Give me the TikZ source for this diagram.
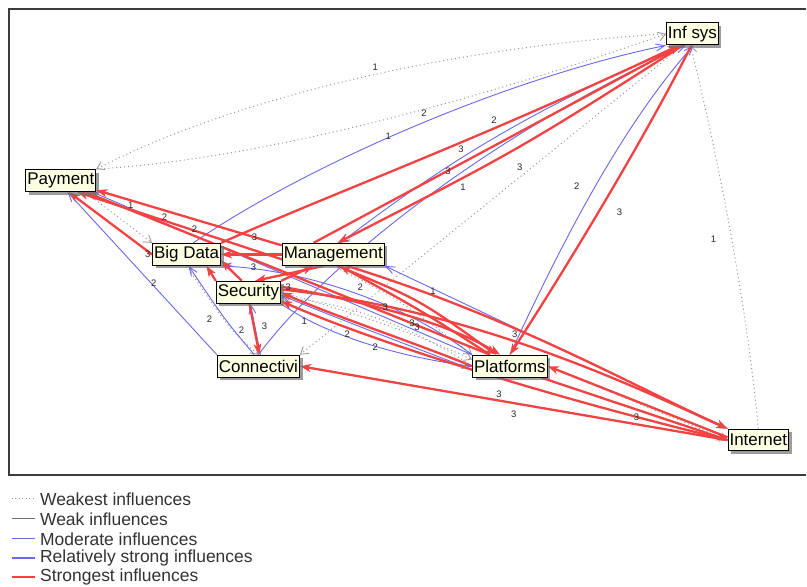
\documentclass[tikz,border=0pt]{standalone}
\usepackage{fontspec}
\setmainfont{Liberation Sans}
\usetikzlibrary{arrows.meta,shadows}
\definecolor{redE}{RGB}{242,66,66}
\definecolor{blueE}{RGB}{104,104,232}
\definecolor{grayE}{RGB}{150,150,150}
\definecolor{weakE}{RGB}{110,110,110}
\definecolor{boxfill}{RGB}{255,255,228}
\definecolor{frameC}{RGB}{60,60,60}
\pgfdeclarelayer{back}
\pgfdeclarelayer{edges}
\pgfsetlayers{back,edges,main}
\begin{document}
\begin{tikzpicture}[x=1pt,y=-1pt,
  vbox/.style={draw=black,line width=1pt,fill=boxfill,font=\fontsize{17}{18}\selectfont,
    inner xsep=1.5pt,inner ysep=1pt,minimum height=22pt,
    drop shadow={shadow xshift=3pt,shadow yshift=-3pt,fill=black!55,opacity=0.7}},
  wk/.style={grayE,line width=1pt,dash pattern=on 1pt off 3pt,
    -{Straight Barb[length=7pt,width=9pt,line width=0.8pt]}},
  md/.style={blueE,line width=0.9pt,-{Straight Barb[length=9pt,width=7pt,line width=0.9pt]}},
  st/.style={redE,line width=2.3pt,-{Stealth[length=11pt,width=8pt,inset=3pt]}},
  elab/.style={font=\fontsize{9.5}{10}\selectfont,inner sep=0pt,text=black!85},
  legl/.style={font=\fontsize{17.5}{18}\selectfont,anchor=west,inner sep=0pt,text=black!80}
]
\begin{pgfonlayer}{back}
\fill[white] (0,0) rectangle (807,588);
\draw[frameC,line width=1.6pt] (808,9) -- (9,9) -- (9,476) -- (808,476);
\end{pgfonlayer}
\useasboundingbox (0,0) rectangle (807,588);

% nodes
\path
 (694,34)  node[vbox] (inf)  {Inf sys}
 (61,181)  node[vbox] (pay)  {Payment}
 (187,255) node[vbox] (big)  {Big Data}
 (334,255) node[vbox] (man)  {Management}
 (249,293) node[vbox] (sec)  {Security}
 (259,367) node[vbox] (con)  {Connectivi}
 (511,367) node[vbox] (plat) {Platforms}
 (760,441) node[vbox] (int)  {Internet};

\begin{pgfonlayer}{edges}
% weakest influences
\draw[wk] (inf.west) .. controls (480,45) and (250,90) .. (pay.north east);
\draw[wk] (pay.north east) .. controls (250,160) and (450,110) .. (inf.west);
\draw[wk] (int.north) .. controls (748,300) and (718,150) .. (inf.-100);
\draw[wk] (inf.-130) -- (con.north east);
\draw[wk] (pay.-25) -- (big.north west);
\draw[wk] (man.south) .. controls (400,300) .. (plat.north west);
\draw[wk] (sec.east) .. controls (380,320) and (440,345) .. (plat.170);
\draw[wk] (plat.west) .. controls (420,330) and (340,300) .. (sec.-10);
\draw[wk] (plat.east) -- (int.west);
\draw[wk] (big.south) .. controls (230,330) .. (con.north);
% moderate influences
\draw[md] (big.60) .. controls (300,170) and (500,80) .. (inf.south west);
\draw[md] (con.north) .. controls (330,260) and (500,130) .. (inf.-120);
\draw[md] (plat.north) .. controls (560,250) and (620,130) .. (inf.-85);
\draw[md] (int.north west) -- (man.south east);
\draw[md] (plat.north west) -- (pay.-20);
\draw[md] (con.north west) -- (pay.-60);
\draw[md] (con.110) .. controls (225,320) .. (big.-80);
\draw[md] (con.80) -- (sec.-80);
\draw[md] (plat.north west) .. controls (400,300) and (300,270) .. (big.south east);
\draw[md] (sec.south east) .. controls (340,345) and (430,362) .. (plat.west);
\draw[md] (plat.185) .. controls (420,350) and (340,320) .. (sec.-5);
\draw[md] (inf.-125) .. controls (500,120) and (400,200) .. (man.60);
% strongest influences
\draw[st] (big.north east) .. controls (330,195) and (480,140) .. (inf.-140);
\draw[st] (man.150) -- (inf.-135);
\draw[st] (inf.-130) .. controls (520,150) .. (man.70);
\draw[st] (inf.-95) .. controls (640,150) and (560,280) .. (plat.north);
\draw[st] (man.west) -- (big.east);
\draw[st] (sec.north west) -- (big.-30);
\draw[st] (sec.120) -- (big.-10);
\draw[st] (man.170) -- (pay.-15);
\draw[st] (plat.150) -- (pay.-25);
\draw[st] (man.-160) -- (pay.-35);
\draw[st] (big.west) -- (pay.-55);
\draw[st] (plat.west) .. controls (420,345) and (330,315) .. (sec.east);
\draw[st] (int.west) .. controls (560,400) and (380,345) .. (sec.-15);
\draw[st] (sec.10) .. controls (380,305) and (450,325) .. (plat.130);
\draw[st] (man.-70) .. controls (420,300) .. (plat.140);
\draw[st] (plat.150) .. controls (420,310) .. (man.-60);
\draw[st] (sec.-85) -- (con.85);
\draw[st] (int.west) -- (con.east);
\draw[st] (int.175) -- (plat.east);
\draw[st] (plat.-20) -- (int.west);
\draw[st] (man.-40) .. controls (520,320) and (640,390) .. (int.north west);
\draw[st] (sec.5) .. controls (470,310) and (620,380) .. (int.160);
\draw[st] (sec.north east) -- (man.-150);
\draw[st] (man.-130) -- (sec.60);
\end{pgfonlayer}

% edge labels
\path
 (376,67)  node[elab] (l01) {1}
 (425,113) node[elab] (l02) {2}
 (389,137) node[elab] (l03) {1}
 (495,120) node[elab] (l04) {2}
 (462,150) node[elab] (l05) {3}
 (449,172) node[elab] (l06) {3}
 (464,188) node[elab] (l07) {1}
 (521,168) node[elab] (l08) {3}
 (578,187) node[elab] (l09) {2}
 (621,213) node[elab] (l10) {3}
 (715,240) node[elab] (l11) {1}
 (131,206) node[elab] (l12) {1}
 (165,218) node[elab] (l13) {2}
 (195,230) node[elab] (l14) {2}
 (255,238) node[elab] (l15) {3}
 (148,255) node[elab] (l16) {3}
 (254,268) node[elab] (l17) {3}
 (154,284) node[elab] (l18) {2}
 (289,288) node[elab] (l19) {3}
 (361,288) node[elab] (l20) {2}
 (434,292) node[elab] (l21) {1}
 (210,320) node[elab] (l22) {2}
 (242,331) node[elab] (l23) {2}
 (265,327) node[elab] (l24) {3}
 (305,322) node[elab] (l25) {1}
 (386,308) node[elab] (l26) {3}
 (413,324) node[elab] (l27) {3}
 (418,328) node[elab] (l28) {3}
 (348,335) node[elab] (l29) {2}
 (376,348) node[elab] (l30) {2}
 (516,335) node[elab] (l31) {3}
 (500,395) node[elab] (l32) {3}
 (515,415) node[elab] (l33) {3}
 (638,418) node[elab] (l34) {3};

% legend
\coordinate (g1a) at (12,500); \coordinate (g1b) at (35,500);
\coordinate (g2a) at (12,520); \coordinate (g2b) at (35,520);
\coordinate (g3a) at (12,540); \coordinate (g3b) at (35,540);
\coordinate (g4a) at (12,559); \coordinate (g4b) at (35,559);
\coordinate (g5a) at (12,578); \coordinate (g5b) at (35,578);
\draw[grayE,line width=0.8pt,dash pattern=on 1pt off 2.5pt] (g1a) -- (g1b);
\draw[weakE,line width=1pt] (g2a) -- (g2b);
\draw[blueE,line width=0.9pt] (g3a) -- (g3b);
\draw[blueE,line width=2.4pt] (g4a) -- (g4b);
\draw[redE,line width=2.4pt] (g5a) -- (g5b);
\node[legl] (t1) at (40,500) {Weakest influences};
\node[legl] (t2) at (40,520) {Weak influences};
\node[legl] (t3) at (40,540) {Moderate influences};
\node[legl] (t4) at (40,559) {Relatively strong influences};
\node[legl] (t5) at (40,578) {Strongest influences};
\end{tikzpicture}
\end{document}
